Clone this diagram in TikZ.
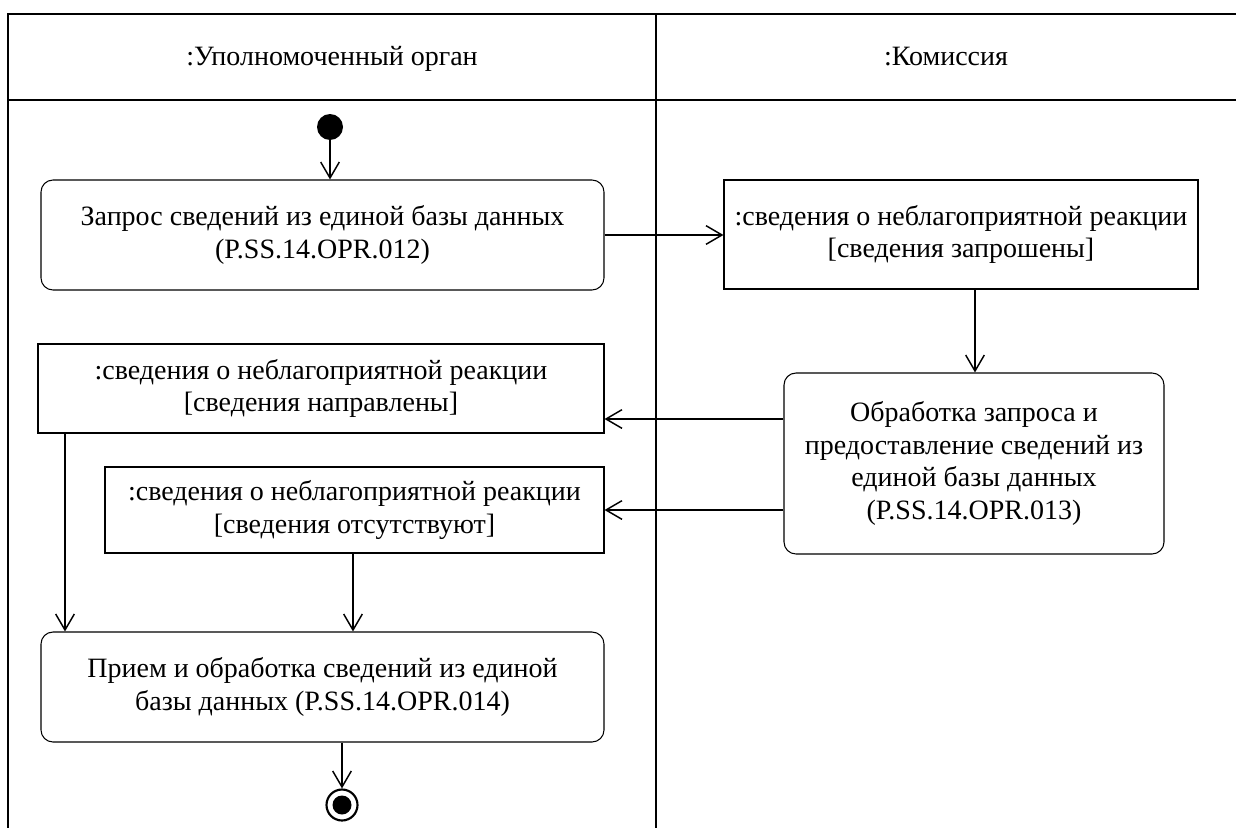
\documentclass[tikz,border=0pt]{standalone}
\usepackage{fontspec}
\setmainfont{Liberation Serif}
\usetikzlibrary{arrows.meta}
\begin{document}
\begin{tikzpicture}[x=0.75pt,y=-0.75pt,
  every node/.style={font=\fontsize{21}{24.5}\selectfont, align=center, inner sep=0pt},
  frame/.style={line width=1.1pt},
  action/.style={draw, line width=0.8pt, rounded corners=9pt},
  objbox/.style={draw, line width=0.8pt},
  arr/.style={line width=1.1pt, -{Straight Barb[length=12pt,width=14pt,line width=1.1pt]}},
  lanehead/.style={font=\fontsize{21}{24.5}\selectfont, anchor=base}
]
\useasboundingbox (0,0) rectangle (1236,828);
% frame
\draw[frame] (8,828) -- (8,14) -- (1236,14);
\draw[frame] (8,100) -- (1236,100);
\draw[frame] (656,14) -- (656,828);
\node[lanehead] (h1) at (332,65) {:Уполномоченный орган};
\node[lanehead] (h2) at (946,65) {:Комиссия};

% start
\node[circle, fill=black, minimum size=26*0.75pt] (start) at (330,127) {};
% actions
\node[action, minimum width=563*0.75pt, minimum height=110*0.75pt] (a1) at (322.5,235)
  {Запрос сведений из единой базы данных\\(P.SS.14.OPR.012)};
\node[objbox, minimum width=474*0.75pt, minimum height=109*0.75pt] (o1) at (961,234.5)
  {:сведения о неблагоприятной реакции\\{}[сведения запрошены]};
\node[action, minimum width=380*0.75pt, minimum height=181*0.75pt] (a2) at (974,463.5)
  {Обработка запроса и\\предоставление сведений из\\единой базы данных\\(P.SS.14.OPR.013)};
\node[objbox, minimum width=566*0.75pt, minimum height=89*0.75pt] (o2) at (321,388.5)
  {:сведения о неблагоприятной реакции\\{}[сведения направлены]};
\node[objbox, minimum width=499*0.75pt, minimum height=86*0.75pt] (o3) at (354.5,510)
  {:сведения о неблагоприятной реакции\\{}[сведения отсутствуют]};
\node[action, minimum width=563*0.75pt, minimum height=110*0.75pt] (a3) at (322.5,687)
  {Прием и обработка сведений из единой\\базы данных (P.SS.14.OPR.014)};
% end
\node[circle, draw, line width=1.6pt, minimum size=31*0.75pt] (end) at (342,805) {};
\node[circle, fill=black, minimum size=19*0.75pt] (endin) at (342,805) {};

% helper coordinates
\coordinate (y1) at (0,419);
\coordinate (y2) at (0,510);
\coordinate (x1) at (65,0);
\coordinate (x2) at (353,0);
\coordinate (x3) at (342,0);
\coordinate (x4) at (975,0);

% connectors
\draw[arr] (start) -- (start |- a1.north);
\draw[arr] (a1.east) -- (o1.west |- a1.east);
\draw[arr] (o1.south -| x4) -- (a2.north -| x4);
\draw[arr] (a2.west |- y1) -- (o2.east |- y1);
\draw[arr] (a2.west |- y2) -- (o3.east |- y2);
\draw[arr] (o2.south -| x1) -- (a3.north -| x1);
\draw[arr] (o3.south -| x2) -- (a3.north -| x2);
\draw[arr] (a3.south -| x3) -- (end.north);
\end{tikzpicture}
\end{document}
